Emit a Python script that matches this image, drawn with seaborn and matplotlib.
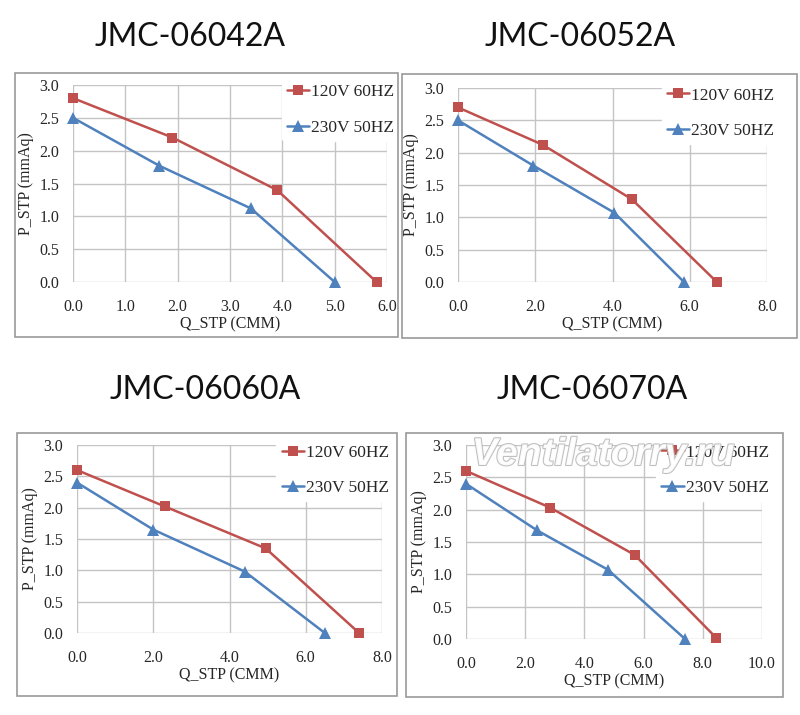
import matplotlib
matplotlib.use("Agg")
import matplotlib.pyplot as plt
import matplotlib.patheffects as pe
from matplotlib.patches import Rectangle
from matplotlib.ticker import FormatStrFormatter, MultipleLocator
import seaborn as sns

# fan curves: flow Q (CMM) vs static pressure P (mmAq)
models = ["JMC-06042A", "JMC-06052A", "JMC-06060A", "JMC-06070A"]

q_120 = [[0.0, 1.9, 3.9, 5.8],
         [0.0, 2.2, 4.5, 6.7],
         [0.0, 2.3, 4.95, 7.4],
         [0.0, 2.85, 5.7, 8.45]]
p_120 = [[2.8, 2.2, 1.4, 0.0],
         [2.7, 2.12, 1.28, 0.0],
         [2.6, 2.02, 1.35, 0.0],
         [2.6, 2.03, 1.3, 0.02]]

q_230 = [[0.0, 1.65, 3.4, 5.0],
         [0.0, 1.95, 4.05, 5.85],
         [0.0, 2.0, 4.4, 6.5],
         [0.0, 2.4, 4.8, 7.4]]
p_230 = [[2.5, 1.77, 1.12, 0.0],
         [2.5, 1.8, 1.07, 0.0],
         [2.4, 1.65, 0.98, 0.0],
         [2.4, 1.68, 1.07, 0.0]]

x_max = [6.0, 8.0, 8.0, 10.0]
x_step = [1.0, 2.0, 2.0, 2.0]

RED = "#C0504D"
BLUE = "#4F81BD"

sns.set_theme(style="white")
plt.rcParams["font.family"] = ["Liberation Serif", "DejaVu Serif"]

fig = plt.figure(figsize=(8, 7.15), dpi=100)
W, H = 800, 715


def px_box(x0, y0, x1, y1):
    # pixel box (top-left origin) -> figure fraction rect
    return [x0 / W, 1 - y1 / H, (x1 - x0) / W, (y1 - y0) / H]


axes_px = [(73, 85, 387, 282),
           (458, 88, 767, 282),
           (77, 445, 382, 633),
           (466, 445, 762, 639)]
frame_px = [(15, 73, 398, 337),
            (402, 74, 797, 338),
            (17, 433, 397, 696),
            (406, 433, 783, 697)]
title_pos = [(190, 37), (580, 37), (205, 390), (592, 390)]

for i, name in enumerate(models):
    fx0, fy0, fx1, fy1 = frame_px[i]
    fig.patches.append(Rectangle((fx0 / W, 1 - fy1 / H), (fx1 - fx0) / W,
                                 (fy1 - fy0) / H, transform=fig.transFigure,
                                 fill=False, edgecolor="#9a9a9a", lw=1.2))
    tx, ty = title_pos[i]
    fig.text(tx / W, 1 - ty / H, name, ha="center", va="center",
             fontsize=23, family=["Lato", "DejaVu Sans"], color="#111111")

    ax = fig.add_axes(px_box(*axes_px[i]))
    sns.lineplot(x=q_120[i], y=p_120[i], ax=ax, color=RED, marker="s",
                 markersize=7, markeredgewidth=0, linewidth=1.8,
                 label="120V 60HZ", clip_on=False)
    sns.lineplot(x=q_230[i], y=p_230[i], ax=ax, color=BLUE, marker="^",
                 markersize=8, markeredgewidth=0, linewidth=1.8,
                 label="230V 50HZ", clip_on=False)

    ax.set_xlim(0, x_max[i])
    ax.set_ylim(0, 3.0)
    ax.xaxis.set_major_locator(MultipleLocator(x_step[i]))
    ax.yaxis.set_major_locator(MultipleLocator(0.5))
    ax.xaxis.set_major_formatter(FormatStrFormatter("%.1f"))
    ax.yaxis.set_major_formatter(FormatStrFormatter("%.1f"))
    ax.grid(True, color="#c4c4c4", linewidth=1.0)
    ax.set_axisbelow(True)
    for s in ax.spines.values():
        s.set_visible(False)
    ax.tick_params(axis="x", length=4, color="#c4c4c4", pad=8, labelsize=11.5)
    ax.tick_params(axis="y", length=0, pad=10, labelsize=11.5)
    ax.set_xlabel("Q_STP (CMM)", fontsize=11.5, labelpad=1)
    ax.set_ylabel("P_STP (mmAq)", fontsize=11.5, labelpad=4)

    leg = ax.legend(loc="upper right", bbox_to_anchor=(1.04, 1.03),
                    frameon=True, fontsize=12.5, handlelength=1.3,
                    handletextpad=0.1, labelspacing=1.1, borderpad=0.3,
                    borderaxespad=0)
    leg.get_frame().set_facecolor("white")
    leg.get_frame().set_edgecolor("white")
    leg.get_frame().set_alpha(1.0)

# site watermark on the last panel
fig.text(603 / W, 1 - 455 / H, "Ventilatorry.ru", ha="center", va="center",
         fontsize=28, style="italic", fontweight="bold",
         family=["Liberation Sans", "DejaVu Sans"], color="white", alpha=0.9,
         path_effects=[pe.withStroke(linewidth=1.5, foreground="#b8b8b8")])

fig.savefig("out.png", dpi=100, facecolor="white")
